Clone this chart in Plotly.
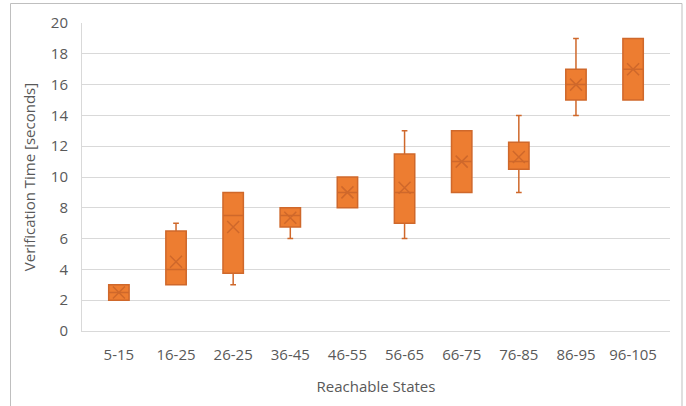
import plotly.graph_objects as go

categories = ["5-15", "16-25", "26-25", "36-45", "46-55", "56-65", "66-75", "76-85", "86-95", "96-105"]
q1_vals = [2, 3, 3.75, 6.75, 8, 7, 9, 10.5, 15, 15]
median_vals = [2.5, 4, 7.5, 7.5, 9, 9, 11, 11, 16, 17]
q3_vals = [3, 6.5, 9, 8, 10, 11.5, 13, 12.25, 17, 19]
low_vals = [2, 3, 3, 6, 8, 6, 9, 9, 14, 15]
high_vals = [3, 7, 9, 8, 10, 13, 13, 14, 19, 19]
mean_vals = [2.5, 4.5, 6.75, 7.35, 9, 9.3, 11, 11.3, 16, 17]

FILL = "#ED7D31"
LINE = "#CF682B"
TXT = "#595959"
GRID = "#D9D9D9"
FONT = "Open Sans"
FS = 15

fig = go.Figure()
fig.add_trace(go.Box(
    x=categories, q1=q1_vals, median=median_vals, q3=q3_vals,
    lowerfence=low_vals, upperfence=high_vals,
    fillcolor=FILL, line=dict(color=LINE, width=1.5),
    whiskerwidth=0.28, boxpoints=False, showlegend=False, hoverinfo="skip",
))
fig.add_trace(go.Scatter(
    x=categories, y=mean_vals, mode="markers",
    marker=dict(symbol="x-thin", size=12, line=dict(color=LINE, width=1.5)),
    showlegend=False, hoverinfo="skip",
))

W, H = 686, 406
L, R, T, B = 82, 16, 23, 75
pw, ph = W - L - R, H - T - B

def px(xp):
    return (xp - L) / pw

def py(yp):
    return (H - B - yp) / ph

border = dict(color="#BFBFBF", width=1)
fig.add_shape(type="line", xref="paper", yref="paper", x0=px(10.5), x1=px(682), y0=py(3.5), y1=py(3.5), line=border)
fig.add_shape(type="line", xref="paper", yref="paper", x0=px(10.5), x1=px(10.5), y0=py(3.5), y1=py(410), line=border)
fig.add_shape(type="line", xref="paper", yref="paper", x0=px(682), x1=px(682), y0=py(3.5), y1=py(410), line=border)

fig.update_layout(
    width=W, height=H,
    margin=dict(l=L, r=R, t=T, b=B, autoexpand=False),
    paper_bgcolor="white", plot_bgcolor="white",
    boxgap=0.49,
    font=dict(family=FONT, size=FS, color=TXT),
    xaxis=dict(
        type="category", showgrid=False, showline=True, linecolor=GRID, linewidth=1,
        ticks="outside", ticklen=10, tickcolor="rgba(0,0,0,0)",
        tickfont=dict(family=FONT, size=FS, color=TXT),
        title=dict(text="Reachable States", font=dict(family=FONT, size=FS, color=TXT), standoff=18),
        automargin=False, zeroline=False,
    ),
    yaxis=dict(
        range=[0, 20], dtick=2, showgrid=True, gridcolor=GRID, gridwidth=1,
        showline=True, linecolor=GRID, linewidth=1, zeroline=False,
        ticks="outside", ticklen=10, tickcolor="rgba(0,0,0,0)",
        tickfont=dict(family=FONT, size=FS, color=TXT),
        title=dict(text="Verification Time [seconds]", font=dict(family=FONT, size=FS, color=TXT), standoff=11),
        automargin=False,
    ),
)

fig.write_html("out.html", config={"displayModeBar": False},
               post_script="document.body.style.margin='0';")
